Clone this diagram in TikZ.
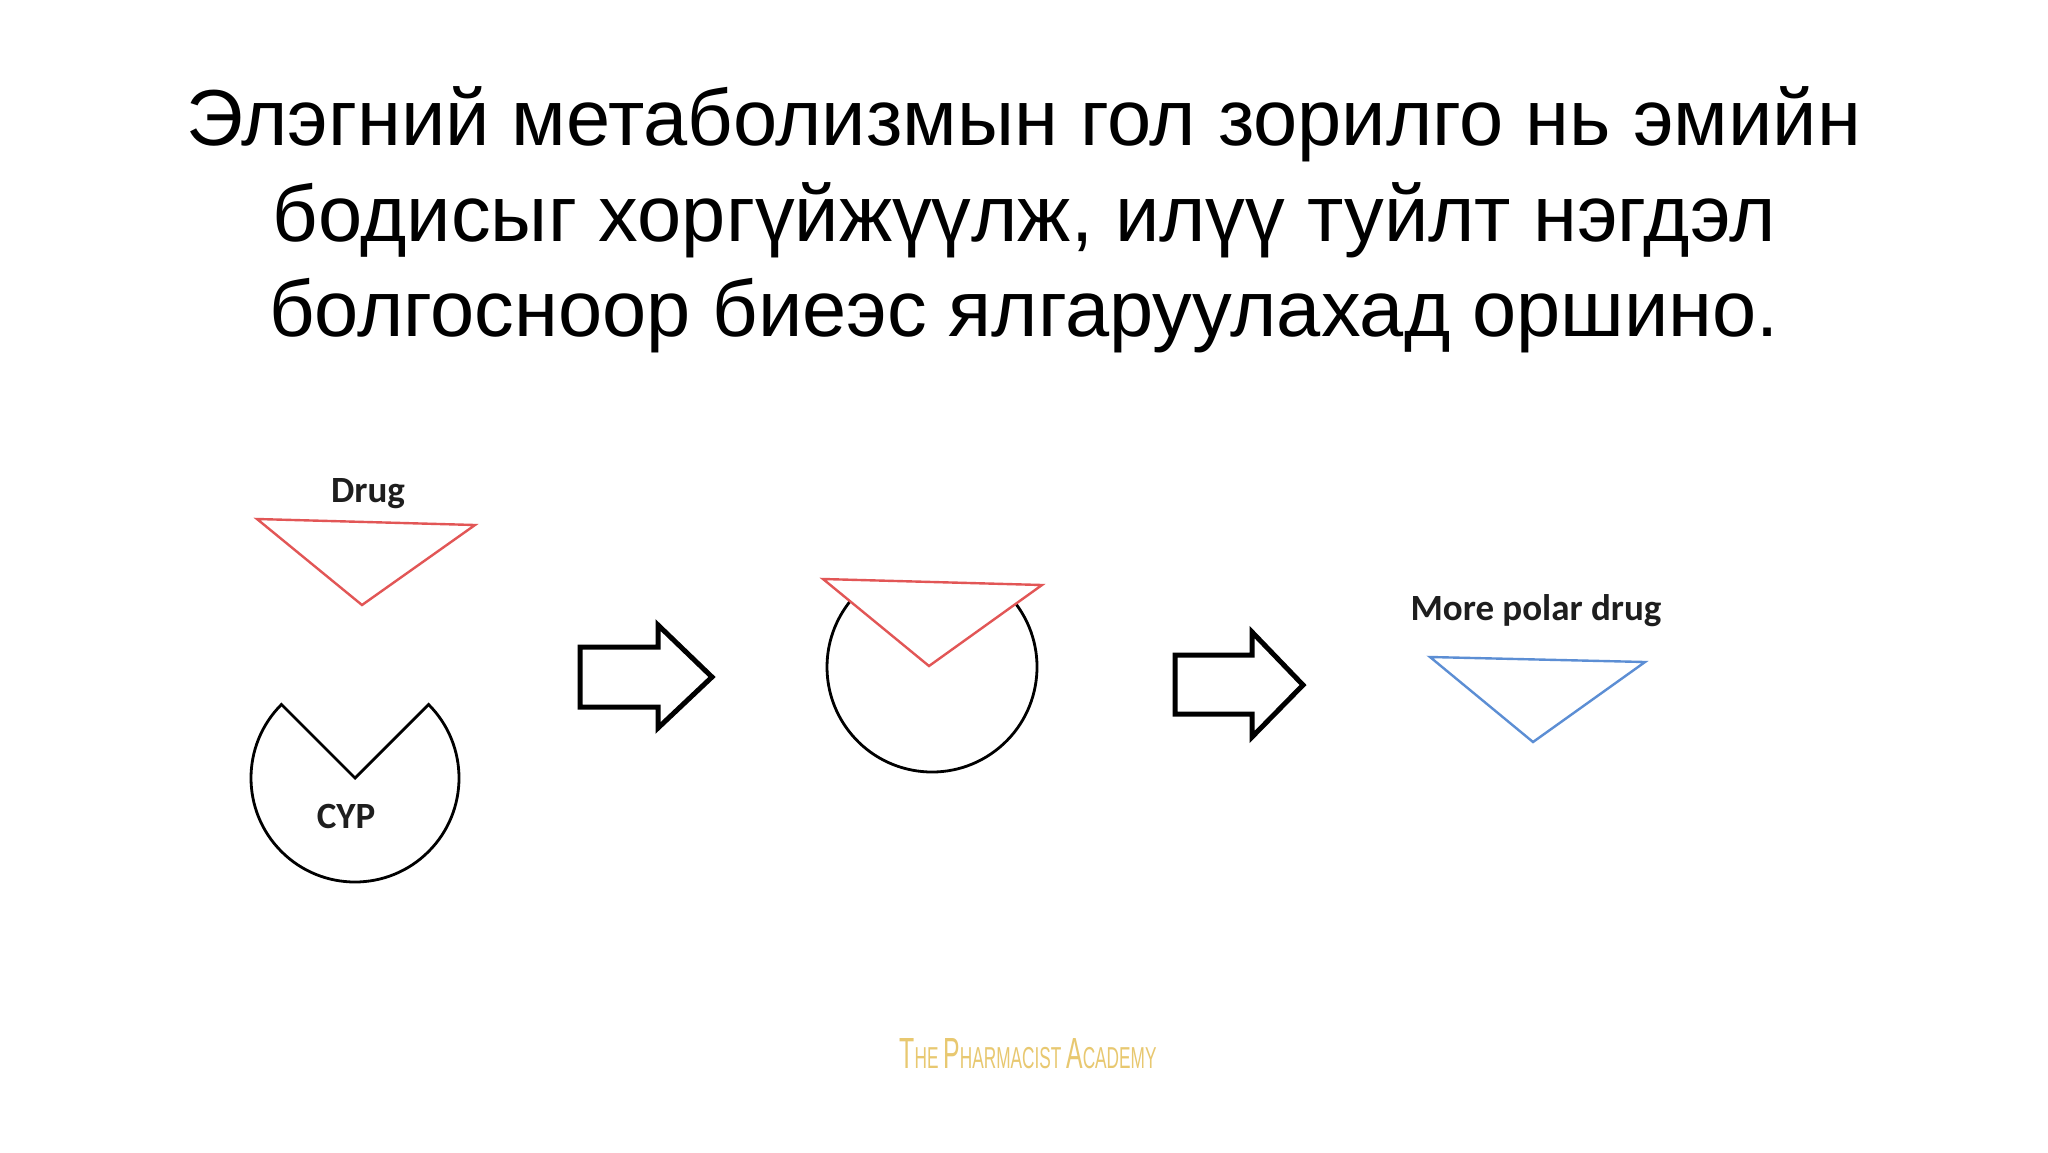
\documentclass[tikz,border=0pt]{standalone}
\usepackage{fontspec}
\usepackage{graphicx}
\setmainfont{Liberation Sans}
\newfontfamily\labelfont{Carlito}
\definecolor{drugred}{RGB}{226,86,86}
\definecolor{polarblue}{RGB}{92,142,212}
\definecolor{labelgray}{RGB}{30,30,30}
\definecolor{gold}{RGB}{232,200,112}
\begin{document}
\begin{tikzpicture}[x=0.5pt,y=-0.5pt,
  outline/.style={draw=black, line width=1.4pt},
  redtri/.style={draw=drugred, line width=1.2pt, line join=miter, fill=white},
  bluetri/.style={draw=polarblue, line width=1.2pt, line join=miter},
  blockarrow/.style={draw=black, line width=2.5pt, line join=miter},
  lbl/.style={font=\labelfont\bfseries\fontsize{18.5}{22}\selectfont, text=labelgray, inner sep=0pt, anchor=base},
  titletext/.style={font=\fontsize{39.7}{48}\selectfont, inner sep=0pt, anchor=base}]
\useasboundingbox[fill=white] (0,0) rectangle (2048,1152);

% title
\node[titletext] (t1) at (1024,145) {Элэгний метаболизмын гол зорилго нь эмийн};
\node[titletext] (t2) at (1024,241) {бодисыг хоргүйжүүлж, илүү туйлт нэгдэл};
\node[titletext] (t3) at (1024,336) {болгосноор биеэс ялгаруулахад оршино.};

% drug + CYP
\node[lbl] (drug) at (368,502) {Drug};
\draw[redtri] (257,519) -- (475,525) -- (362,605) -- cycle;
\coordinate (cyp) at (355,778);
\draw[outline, line join=miter] (cyp) -- ++(-45:104) arc[start angle=-45, end angle=225, radius=104] -- cycle;
\node[lbl] (cyplabel) at (346,828) {CYP};

% arrow 1
\draw[blockarrow] (580,647) -- (658,647) -- (658,625) -- (712,677) -- (658,728) -- (658,707) -- (580,707) -- cycle;

% complex
\coordinate (complex) at (932,667);
\draw[outline] (complex) ++(-37:105) arc[start angle=-37, end angle=218.7, radius=105];
\draw[redtri, fill=none] (823,579) -- (1042,585) -- (929,666) -- cycle;

% arrow 2
\draw[blockarrow] (1175,655) -- (1252,655) -- (1252,632) -- (1303,685) -- (1252,737) -- (1252,714) -- (1175,714) -- cycle;

% product
\node[lbl] (polar) at (1536,620) {More polar drug};
\draw[bluetri] (1430,657) -- (1645,662) -- (1533,742) -- cycle;

% footer
\node[inner sep=0pt, anchor=base, text=gold] (footer) at (1028,1068)
  {\resizebox{128.5pt}{15pt}{{\Large T}HE {\Large P}HARMACIST {\Large A}CADEMY}};
\end{tikzpicture}
\end{document}
